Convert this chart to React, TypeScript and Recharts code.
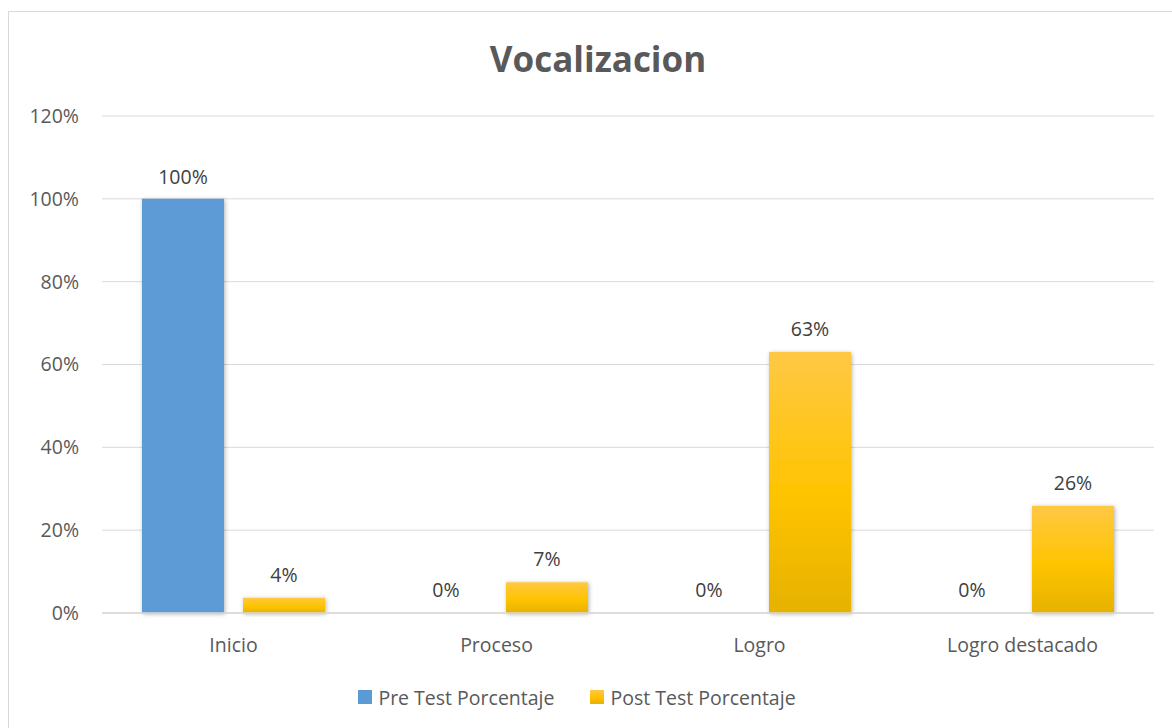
import { BarChart, Bar, XAxis, YAxis, CartesianGrid, Legend, LabelList, Cell } from 'recharts'

const categories = ['Inicio', 'Proceso', 'Logro', 'Logro destacado']
const preTest = [1.0, 0, 0, 0]
const postTest = [0.037, 0.074, 0.63, 0.259]
const yTicks = [0, 0.2, 0.4, 0.6, 0.8, 1.0, 1.2]

const data = categories.map((name, i) => ({ name, pre: preTest[i], post: postTest[i] }))

const FONT = '"Open Sans", sans-serif'
const pct = (v: unknown) => `${Math.round(Number(v) * 100)}%`

function LegendContent() {
  const items = [
    { label: 'Pre Test Porcentaje', bg: '#5B9BD5' },
    { label: 'Post Test Porcentaje', bg: 'linear-gradient(#FFC844, #FFC000 55%, #E8B000)' },
  ]
  return (
    <div style={{ display: 'flex', justifyContent: 'center', alignItems: 'center', gap: 36, height: 26 }}>
      {items.map((it) => (
        <div key={it.label} style={{ display: 'flex', alignItems: 'center', gap: 6 }}>
          <span style={{ width: 14, height: 14, background: it.bg, display: 'inline-block' }} />
          <span style={{ fontFamily: FONT, fontSize: 19.5, color: '#595959' }}>{it.label}</span>
        </div>
      ))}
    </div>
  )
}

export default function App() {
  return (
    <div style={{ position: 'absolute', left: 0, top: 0, width: 1172, height: 728, overflow: 'hidden', background: '#fff' }}>
      <div style={{ position: 'absolute', left: 8, top: 11, width: 1200, height: 760, border: '1px solid #d9d9d9' }} />
      <div
        style={{
          position: 'absolute', left: 0, width: 1196, top: 36, textAlign: 'center',
          fontFamily: FONT, fontWeight: 700, fontSize: 35, color: '#595959', lineHeight: '46px',
        }}
      >
        Vocalizacion
      </div>
      <div style={{ position: 'absolute', left: 0, top: 0 }}>
        <BarChart
          width={1172}
          height={728}
          data={data}
          margin={{ top: 116, right: 18, left: 0, bottom: 18 }}
          barCategoryGap={40}
          barGap={19}
        >
          <defs>
            <linearGradient id="postGrad" x1="0" y1="0" x2="0" y2="1">
              <stop offset="0%" stopColor="#FFC844" />
              <stop offset="55%" stopColor="#FFC400" />
              <stop offset="100%" stopColor="#E6B200" />
            </linearGradient>
            <filter id="barShadow" x="-20%" y="-20%" width="140%" height="140%">
              <feDropShadow dx="1" dy="1" stdDeviation="2" floodColor="#000" floodOpacity="0.3" />
            </filter>
          </defs>
          <CartesianGrid vertical={false} stroke="#d9d9d9" />
          <XAxis
            dataKey="name"
            height={71}
            axisLine={{ stroke: '#d9d9d9', strokeWidth: 1.5 }}
            tickLine={false}
            tickSize={6}
            tickMargin={19}
            tick={{ fill: '#595959', fontSize: 19.5, fontFamily: FONT }}
          />
          <YAxis
            width={102}
            domain={[0, 1.2]}
            ticks={yTicks}
            tickFormatter={pct}
            axisLine={false}
            tickLine={false}
            tickSize={6}
            tickMargin={17}
            tick={{ fill: '#595959', fontSize: 19.5, fontFamily: FONT }}
          />
          <Legend verticalAlign="bottom" content={<LegendContent />} />
          <Bar dataKey="pre" name="Pre Test Porcentaje" fill="#5B9BD5" minPointSize={1} isAnimationActive={false}>
            {preTest.map((v, i) => (
              <Cell key={i} fill={v === 0 ? 'transparent' : '#5B9BD5'} filter={v === 0 ? undefined : 'url(#barShadow)'} />
            ))}
            <LabelList dataKey="pre" position="top" offset={15} formatter={pct} fill="#404040" fontSize={19.5} fontFamily={FONT} />
          </Bar>
          <Bar dataKey="post" name="Post Test Porcentaje" fill="url(#postGrad)" filter="url(#barShadow)" isAnimationActive={false}>
            <LabelList dataKey="post" position="top" offset={16} formatter={pct} fill="#404040" fontSize={19.5} fontFamily={FONT} />
          </Bar>
        </BarChart>
      </div>
    </div>
  )
}
